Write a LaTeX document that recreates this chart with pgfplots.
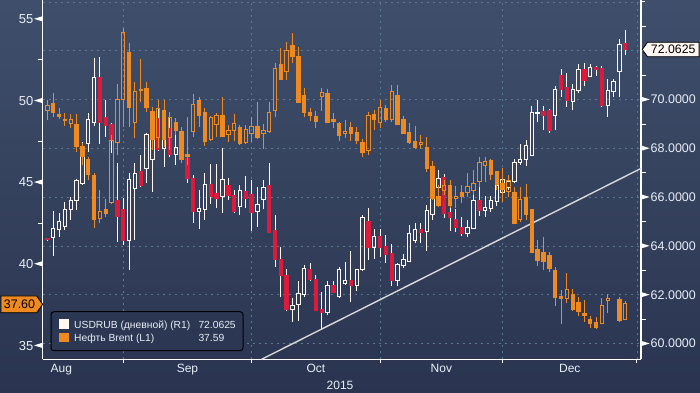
\documentclass[border=0pt]{standalone}
\usepackage{pgfplots}
\pgfplotsset{compat=1.18}
\usepackage{pgfplotstable}
\usepackage{fontspec}
\setmainfont{Liberation Sans}

\definecolor{bgtop}{HTML}{3F4F6B}
\definecolor{bgbot}{HTML}{2A3450}
\definecolor{rubw}{HTML}{FFF8F0}
\definecolor{rubr}{HTML}{DC1A3C}
\definecolor{brent}{HTML}{EE8A1F}
\definecolor{gridc}{HTML}{587A90}
\definecolor{lbl}{HTML}{E8EEF5}
\definecolor{legbg}{HTML}{2C3853}
\definecolor{trendc}{HTML}{D8D8D8}

% USDRUB (R1) rising days (hollow white)
\pgfplotstableread{
k o h l c
1 64.35 65.45 63.60 64.73
2 64.66 65.34 64.39 65.00
3 64.82 65.82 64.66 65.50
4 65.48 66.02 65.07 65.86
5 65.86 66.73 65.48 66.67
6 66.57 68.28 66.50 68.07
7 68.21 69.46 67.87 69.19
8 69.05 71.69 68.92 70.91
14 64.22 66.98 63.02 66.71
15 66.37 67.39 64.25 66.98
17 67.18 68.62 66.57 68.55
18 67.55 69.71 66.23 69.50
20 68.00 69.14 67.25 68.55
22 67.73 68.89 67.32 68.03
26 65.41 66.30 64.69 65.52
27 65.50 67.00 65.07 66.54
30 66.02 68.00 65.37 66.73
33 65.62 66.50 65.27 66.27
36 65.41 66.43 64.80 65.72
37 65.92 66.71 65.50 66.41
42 61.41 61.89 60.87 61.55
43 61.59 62.55 60.91 62.04
44 62.00 63.23 61.93 63.09
48 61.28 62.55 61.18 62.37
50 61.93 63.16 61.89 63.02
51 62.48 63.34 62.41 62.57
53 62.38 63.05 62.14 63.02
54 63.02 65.27 63.00 65.18
56 63.95 64.69 63.46 64.39
60 62.59 63.32 62.37 63.23
61 63.19 63.68 63.09 63.43
62 63.36 64.86 63.36 64.52
63 64.22 64.96 64.11 64.66
65 64.59 65.68 63.81 65.44
66 65.30 66.19 65.07 65.96
67 66.41 67.12 66.16 66.78
72 64.53 65.07 64.39 64.77
73 64.73 66.09 64.70 65.85
75 65.45 66.05 65.18 65.57
76 65.52 66.05 65.41 65.85
77 65.82 66.64 65.64 66.46
78 66.19 67.14 65.82 66.71
79 66.41 66.90 66.30 66.64
80 66.64 67.55 66.60 67.42
81 67.42 68.20 67.32 67.53
82 67.53 68.34 67.28 68.10
83 67.70 69.74 67.70 69.48
84 69.42 69.98 69.10 69.48
87 69.34 70.55 68.75 70.42
90 69.91 70.64 69.58 70.42
91 70.36 71.45 70.28 71.24
93 70.95 71.44 70.94 71.32
96 69.75 70.85 69.30 70.36
97 70.32 70.85 70.10 70.73
98 71.17 72.50 70.10 72.27
}\rubup

% USDRUB (R1) falling days (red)
\pgfplotstableread{
k o h l c
0 64.30 64.33 64.22 64.25
9 70.91 71.75 68.18 69.05
10 69.27 70.00 68.48 68.92
11 68.96 69.03 67.80 68.34
12 65.85 67.39 64.18 65.21
13 65.51 65.96 64.05 64.22
16 67.05 67.73 66.43 66.47
19 69.23 70.00 67.90 67.96
21 68.82 69.23 67.66 67.77
24 67.59 69.23 66.60 66.75
25 66.78 66.91 64.96 65.41
28 66.54 67.35 65.73 66.02
29 66.16 67.35 65.55 65.93
31 66.50 66.77 65.89 66.07
32 66.09 66.30 65.37 65.41
34 66.23 66.87 65.55 65.93
35 66.13 66.71 64.63 65.37
38 66.46 67.39 64.55 64.55
39 64.62 65.27 63.16 63.46
40 63.46 63.95 61.93 62.78
41 62.78 63.05 61.32 61.39
45 63.05 63.30 62.55 62.61
46 62.64 62.82 61.32 61.36
47 61.39 62.10 60.57 61.28
49 62.37 62.57 62.07 62.10
52 62.57 63.80 61.69 62.38
55 65.00 65.55 63.43 63.95
57 64.41 64.69 63.54 63.95
58 64.00 64.46 63.30 63.64
59 63.68 64.09 62.37 62.59
64 64.69 64.96 64.14 64.55
68 66.82 66.95 65.14 65.34
69 65.37 65.75 64.63 65.18
70 65.10 65.50 64.56 64.77
71 64.76 65.18 64.41 64.53
74 65.85 66.50 65.23 65.45
85 69.50 69.74 68.75 69.33
86 69.54 69.60 68.64 68.75
88 71.00 71.25 70.11 70.42
89 70.50 71.07 69.71 69.95
92 71.24 71.48 70.55 70.77
94 71.32 71.39 70.98 71.25
95 71.28 71.37 69.68 69.74
99 72.30 72.87 71.82 72.0625
}\rubdn

% Brent (L1) rising days (hollow orange)
\pgfplotstableread{
k o h l c
0 49.39 50.04 48.82 49.73
4 48.61 49.16 48.35 48.88
9 42.80 44.53 42.53 43.24
11 43.78 47.90 43.70 47.59
12 47.43 51.02 46.67 50.10
13 50.08 54.43 48.37 54.18
15 48.65 51.16 47.71 50.55
19 47.76 50.04 47.08 49.53
21 47.76 49.30 47.00 48.96
25 48.10 50.39 47.80 49.78
28 47.65 49.06 47.55 48.98
29 48.55 49.27 47.80 49.12
31 47.94 48.49 47.49 48.20
32 48.16 49.18 47.55 48.61
34 47.45 48.49 47.35 48.24
35 48.00 48.98 47.49 48.45
37 48.00 48.57 47.02 48.20
38 48.10 49.92 48.00 49.29
39 49.39 52.33 48.98 51.98
41 51.78 53.57 51.27 53.06
47 50.24 50.76 49.39 50.51
51 48.00 48.82 47.73 48.14
55 46.94 49.29 46.67 49.12
57 48.65 50.04 48.31 49.59
59 48.88 50.96 48.71 50.59
64 47.31 47.90 47.04 47.47
68 44.53 45.14 44.20 44.80
70 44.00 44.78 43.41 44.16
72 44.37 45.59 44.12 44.73
73 44.49 45.76 44.22 44.90
74 45.08 46.57 44.73 46.20
75 46.06 46.57 45.04 46.27
79 44.43 45.45 44.12 45.14
81 42.73 44.73 42.59 43.96
89 37.86 39.47 37.63 38.45
95 36.37 37.90 36.33 37.43
96 37.76 38.16 36.98 37.90
99 36.57 37.73 36.57 37.59
}\brup

% Brent (L1) falling days (filled orange)
\pgfplotstableread{
k o h l c
1 49.84 50.45 48.98 49.27
2 49.18 49.53 48.86 49.02
3 48.86 49.22 48.45 48.80
5 48.57 49.18 46.88 47.18
6 47.18 47.39 46.06 46.61
7 46.37 46.57 45.14 45.45
8 45.39 45.55 42.18 42.73
10 43.35 44.00 42.90 43.10
14 52.96 53.55 48.41 49.57
16 50.71 52.53 49.90 50.61
17 50.76 51.16 49.33 49.59
18 49.33 49.63 47.00 47.63
20 49.43 50.04 47.18 47.63
22 48.69 48.92 47.90 48.16
23 48.14 48.41 46.20 46.41
24 46.73 48.98 46.06 46.61
26 50.04 50.20 48.41 49.08
27 49.29 49.53 47.24 47.49
30 49.12 50.25 47.76 47.80
33 48.39 48.51 47.29 47.35
36 48.45 49.94 47.63 47.73
40 52.24 53.20 51.27 51.33
42 53.41 54.16 52.29 52.69
43 52.73 53.31 49.88 49.88
44 50.35 50.76 48.98 49.27
45 49.29 49.53 48.78 49.12
46 49.06 49.39 48.31 48.71
48 50.45 50.69 48.61 48.65
49 48.88 49.22 48.31 48.71
50 48.61 48.71 47.55 47.86
52 48.37 48.69 47.55 48.00
53 48.08 48.41 47.35 47.55
54 47.45 47.63 46.53 46.82
56 49.18 49.43 48.20 48.82
58 49.55 49.73 48.69 48.82
60 50.29 50.96 48.57 48.57
61 48.88 49.06 47.98 47.98
62 48.08 48.65 47.35 47.43
63 47.53 48.45 47.04 47.16
65 47.16 47.78 45.63 45.82
66 46.00 46.31 43.92 44.02
67 44.12 44.84 43.50 43.61
69 44.78 45.14 43.41 43.57
71 44.37 44.84 43.76 44.16
76 46.33 46.41 45.14 45.45
77 45.65 45.71 44.53 44.84
78 44.94 45.86 43.82 44.57
80 44.37 44.73 42.45 42.45
82 44.06 44.90 42.69 43.00
83 43.31 43.31 40.65 40.71
84 40.86 41.47 39.90 40.24
85 40.69 41.67 39.63 40.14
86 40.49 40.71 39.53 39.71
87 39.59 39.84 37.45 37.96
88 38.00 38.41 36.33 37.86
90 38.16 38.45 37.14 37.18
91 37.63 37.96 36.82 37.06
92 36.98 37.80 36.45 36.82
93 36.57 36.82 36.08 36.33
94 36.41 36.78 36.00 36.12
98 37.84 37.96 36.47 36.53
}\brdn

\newcommand\rtri{\tikz[baseline=-0.36em]\fill[white] (0,2.6bp)--(8.5bp,0)--(0,-2.6bp)--cycle;\hspace{1bp}}
\newcommand\ltri{\hspace{0.7bp}\tikz[baseline=-0.36em]\fill[white] (0,0)--(8.5bp,2.6bp)--(8.5bp,-2.6bp)--cycle;}

\pgfplotsset{
  base/.style={scale only axis, width=598.3bp, height=359.3bp,
    at={(42.7bp,33.7bp)}, anchor=south west,
    xmin=-0.8, xmax=101.7,
    tick align=outside, major tick length=4bp, minor tick length=4.5bp,
    every tick/.style={white, line width=0.9bp},
    axis line style={white, line width=1.1bp},
    tick label style={text=lbl}},
  wick/.style={mark=none, draw=none, forget plot,
    error bars/.cd, y dir=plus, y explicit, error mark=none,
    error bar style={line width=1bp, draw=#1, solid}},
  body/.style={mark=none, draw=none, forget plot,
    error bars/.cd, y dir=plus, y explicit, error mark=none,
    error bar style={line width=4.4bp, draw=#1, solid}},
  edge/.style={only marks, mark=-, mark size=2.2bp,
    mark options={line width=1bp, draw=#1, solid}, forget plot},
}

\begin{document}
\begin{tikzpicture}
\useasboundingbox (0,0) rectangle (700bp,393bp);
\shade[top color=bgtop, bottom color=bgbot] (0,0) rectangle (700bp,393bp);

% ---------- right axis: USDRUB ----------
\begin{axis}[base,
  axis x line*=bottom, axis y line*=right,
  ymin=59.36, ymax=74.08,
  ytick={60,62,...,70},
  minor ytick={61,63,...,73},
  extra y ticks={72,74}, extra y tick labels={},
  extra y tick style={grid=major},
  yticklabel={\rtri\pgfmathprintnumber[fixed,fixed zerofill,precision=4,assume math mode=true]{\tick}},
  yticklabel style={anchor=west, inner sep=0pt, xshift=-4bp, font=\fontsize{12.5bp}{14bp}\selectfont},
  xtick={13,35,57,78,101}, xticklabels={},
  extra x ticks={2.4,24,46,67.5,89.5},
  extra x tick labels={Aug,Sep,Oct,Nov,Dec},
  extra x tick style={grid=none, major tick length=0pt,
    xticklabel style={anchor=north, inner sep=0pt, yshift=-5bp, font=\fontsize{12bp}{14bp}\selectfont}},
  grid=major,
  major grid style={draw=gridc, line width=0.8bp, dash pattern=on 2.5bp off 3.5bp},
]
% rising (hollow white)
\addplot[wick=rubw] table[x=k, y=c, y error expr=\thisrow{h}-\thisrow{c}] {\rubup};
\addplot[wick=rubw] table[x=k, y=l, y error expr=\thisrow{o}-\thisrow{l}] {\rubup};
\addplot[wick=rubw] table[x expr=\thisrow{k}-0.291, y=o, y error expr=\thisrow{c}-\thisrow{o}] {\rubup};
\addplot[wick=rubw] table[x expr=\thisrow{k}+0.291, y=o, y error expr=\thisrow{c}-\thisrow{o}] {\rubup};
\addplot[edge=rubw] table[x=k, y=o] {\rubup};
\addplot[edge=rubw] table[x=k, y=c] {\rubup};
% falling (red body, white wick)
\addplot[wick=rubw] table[x=k, y=l, y error expr=\thisrow{h}-\thisrow{l}] {\rubdn};
\addplot[body=rubr] table[x=k, y=c, y error expr=\thisrow{o}-\thisrow{c}] {\rubdn};
\addplot[edge=rubr] table[x=k, y=o] {\rubdn};
\addplot[edge=rubr] table[x=k, y=c] {\rubdn};
% trend line
\addplot[trendc, line width=1.4bp, forget plot] coordinates {(36.7,59.36) (101.7,67.18)};
\end{axis}

% ---------- left axis: Brent ----------
\begin{axis}[base,
  axis x line=none, axis y line*=left,
  ymin=34.16, ymax=56.17,
  ytick={35,40,...,55},
  minor ytick={37.5,42.5,...,52.5},
  yticklabel={\pgfmathprintnumber[assume math mode=true]{\tick}\ltri},
  yticklabel style={anchor=east, inner sep=0pt, xshift=4bp, font=\fontsize{13bp}{14bp}\selectfont},
]
\addplot[wick=brent] table[x=k, y=c, y error expr=\thisrow{h}-\thisrow{c}] {\brup};
\addplot[wick=brent] table[x=k, y=l, y error expr=\thisrow{o}-\thisrow{l}] {\brup};
\addplot[wick=brent] table[x expr=\thisrow{k}-0.291, y=o, y error expr=\thisrow{c}-\thisrow{o}] {\brup};
\addplot[wick=brent] table[x expr=\thisrow{k}+0.291, y=o, y error expr=\thisrow{c}-\thisrow{o}] {\brup};
\addplot[edge=brent] table[x=k, y=o] {\brup};
\addplot[edge=brent] table[x=k, y=c] {\brup};
\addplot[wick=brent] table[x=k, y=l, y error expr=\thisrow{h}-\thisrow{l}] {\brdn};
\addplot[body=brent] table[x=k, y=c, y error expr=\thisrow{o}-\thisrow{c}] {\brdn};
\addplot[edge=brent] table[x=k, y=o] {\brdn};
\addplot[edge=brent] table[x=k, y=c] {\brdn};
\end{axis}

% year label
\node[anchor=base, inner sep=0pt, text=lbl, font=\fontsize{12bp}{14bp}\selectfont] at (340bp,3.3bp) {2015};

% legend
\draw[black, line width=1bp, fill=legbg, rounded corners=3bp] (51bp,42.3bp) rectangle (243bp,81.3bp);
\fill[rubw] (59.3bp,64.3bp) rectangle (69bp,73.7bp);
\fill[brent] (59.3bp,51.3bp) rectangle (69bp,60.3bp);
\begin{scope}[every node/.style={anchor=base west, inner sep=0pt, text=lbl, font=\fontsize{10.3bp}{12bp}\selectfont}]
\node at (74bp,64bp) {USDRUB (дневной) (R1)};
\node at (74bp,51.3bp) {Нефть Brent (L1)};
\node at (198.3bp,64bp) {72.0625};
\node at (198.3bp,51.3bp) {37.59};
\end{scope}

% last-value flags
\draw[black, line width=0.8bp, fill=brent] (1bp,97bp) -- (36.7bp,97bp) -- (42.7bp,88.7bp) -- (36.7bp,80.3bp) -- (1bp,80.3bp) -- cycle;
\node[inner sep=0pt, font=\fontsize{12.4bp}{14bp}\selectfont, text=black] at (19.5bp,88.7bp) {37.60};
\draw[black, line width=0.8bp, fill=rubw] (642.3bp,343.5bp) -- (647.5bp,350.7bp) -- (699bp,350.7bp) -- (699bp,336.3bp) -- (647.5bp,336.3bp) -- cycle;
\node[inner sep=0pt, font=\fontsize{12.3bp}{14bp}\selectfont, text=black] at (673.2bp,343.5bp) {72.0625};
\end{tikzpicture}
\end{document}
